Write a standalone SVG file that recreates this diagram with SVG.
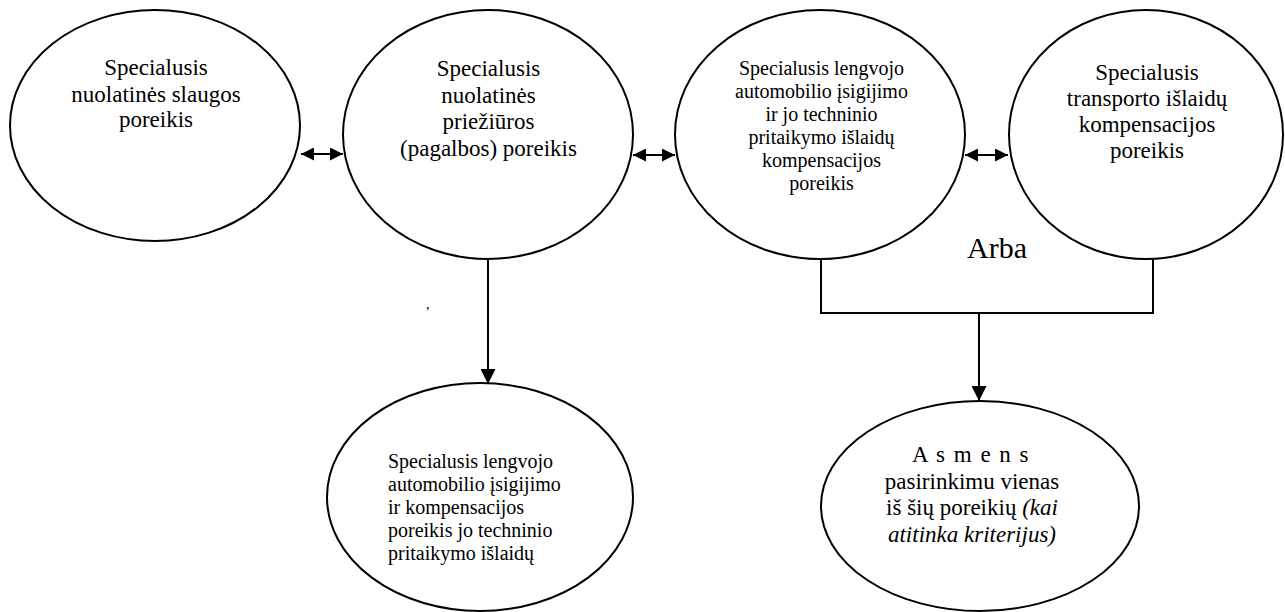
<svg xmlns="http://www.w3.org/2000/svg" width="1285" height="612" viewBox="0 0 1285 612">
<style>
.node ellipse{fill:#fff;stroke:#000;stroke-width:2}
text{font-family:"Liberation Serif","Times New Roman",serif;fill:#000}
.big{font-size:23px}
.sm{font-size:20px}
.c{text-anchor:middle}
.i{font-style:italic}
.conn line,.conn path{stroke:#000;stroke-width:2;fill:none}
</style>
<defs>
<marker id="ah" viewBox="0 0 15 15" refX="15" refY="7.5" markerWidth="15" markerHeight="15" markerUnits="userSpaceOnUse" orient="auto">
<path d="M0,0 L15,7.5 L0,15 z" fill="#000"/>
</marker>
<marker id="dh" viewBox="0 0 13 13" refX="13" refY="6.5" markerWidth="13" markerHeight="13" markerUnits="userSpaceOnUse" orient="auto-start-reverse">
<path d="M0,0 L13,6.5 L0,13 z" fill="#000"/>
</marker>
</defs>
<rect width="1285" height="612" fill="#fff"/>

<g id="n1" class="node">
<ellipse cx="155" cy="125.5" rx="145" ry="115.5"/>
<text class="big c" x="156" y="75">Specialusis</text>
<text class="big c" x="156" y="101.5">nuolatinės slaugos</text>
<text class="big c" x="156" y="127">poreikis</text>
</g>

<g id="n2" class="node">
<ellipse cx="488" cy="134.5" rx="145" ry="124.5"/>
<text class="big c" x="488.5" y="76">Specialusis</text>
<text class="big c" x="488.5" y="102.7">nuolatinės</text>
<text class="big c" x="488.5" y="129.4">priežiūros</text>
<text class="big c" x="488.5" y="156">(pagalbos) poreikis</text>
</g>

<g id="n3" class="node">
<ellipse cx="820" cy="134.5" rx="145" ry="124.5"/>
<text class="sm c" x="821.5" y="75">Specialusis lengvojo</text>
<text class="sm c" x="821.5" y="98">automobilio įsigijimo</text>
<text class="sm c" x="821.5" y="121">ir jo techninio</text>
<text class="sm c" x="821.5" y="144">pritaikymo išlaidų</text>
<text class="sm c" x="821.5" y="167">kompensacijos</text>
<text class="sm c" x="821.5" y="189.5">poreikis</text>
</g>

<g id="n4" class="node">
<ellipse cx="1146" cy="134.5" rx="137" ry="124.5"/>
<text class="big c" x="1147" y="80">Specialusis</text>
<text class="big c" x="1147" y="106">transporto išlaidų</text>
<text class="big c" x="1147" y="132">kompensacijos</text>
<text class="big c" x="1147" y="157.5">poreikis</text>
</g>

<g id="n5" class="node">
<ellipse cx="480" cy="497" rx="153" ry="114"/>
<text class="sm" x="388" y="468">Specialusis lengvojo</text>
<text class="sm" x="388" y="491">automobilio įsigijimo</text>
<text class="sm" x="388" y="513.5">ir kompensacijos</text>
<text class="sm" x="388" y="537">poreikis jo techninio</text>
<text class="sm" x="388" y="560">pritaikymo išlaidų</text>
</g>

<g id="n6" class="node">
<ellipse cx="980" cy="506" rx="159" ry="105"/>
<text class="big c" x="971" y="462" letter-spacing="1.5">A s m e n s</text>
<text class="big c" x="972" y="488.5">pasirinkimu vienas</text>
<text class="big c" x="972" y="515">iš šių poreikių <tspan class="i">(kai</tspan></text>
<text class="big c i" x="972" y="542">atitinka kriterijus)</text>
</g>

<g id="connectors" class="conn">
<line x1="301" y1="154" x2="343" y2="154" marker-start="url(#dh)" marker-end="url(#dh)"/>
<line x1="633" y1="155" x2="675" y2="155" marker-start="url(#dh)" marker-end="url(#dh)"/>
<line x1="965" y1="155" x2="1008" y2="155" marker-start="url(#dh)" marker-end="url(#dh)"/>
<line x1="488" y1="259" x2="488" y2="384" marker-end="url(#ah)"/>
<path d="M821,259 V313 H1153 V258.5"/>
<line x1="979" y1="313" x2="979" y2="401" marker-end="url(#ah)"/>
</g>

<text x="967" y="258" font-size="30">Arba</text>
<text x="426" y="309" font-size="14">,</text>
</svg>
